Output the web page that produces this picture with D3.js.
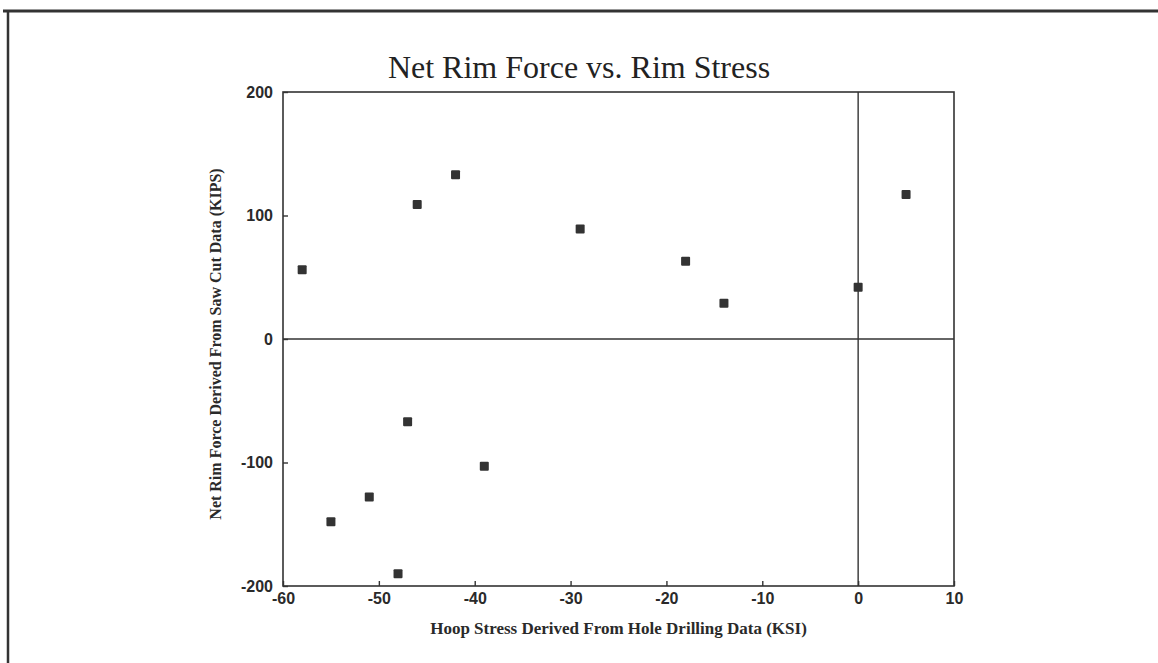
<!DOCTYPE html>
<html>
<head>
<meta charset="utf-8">
<script src="https://cdn.jsdelivr.net/npm/d3@7"></script>
<style>
  body { margin: 0; background: #fff; }
  .tick-label { font-family: "Liberation Sans", Arial, sans-serif; font-weight: bold; font-size: 16px; fill: #2a2a2a; }
  .axis-title { font-family: "Liberation Serif", "Times New Roman", serif; font-weight: bold; fill: #2a2a2a; }
</style>
</head>
<body>
<div id="chart"></div>
<script>
// hoop stress (KSI) vs net rim force (KIPS)
const hoopStress = [-58, -46, -42, -29, -18, -14, 0, 5, -47, -39, -51, -55, -48];
const rimForce = [56, 109, 133, 89, 63, 29, 42, 117, -67, -103, -128, -148, -190];
const xTicks = [-60, -50, -40, -30, -20, -10, 0, 10];
const yTicks = [200, 100, 0, -100, -200];

const W = 1158, H = 663;
const plot = { left: 283, right: 954, top: 92, bottom: 586 };

const svg = d3.select("#chart").append("svg")
  .attr("width", W)
  .attr("height", H);

// page frame (top + left edges of the scanned sheet)
svg.append("line")
  .attr("x1", 3).attr("x2", W).attr("y1", 11).attr("y2", 11)
  .attr("stroke", "#333").attr("stroke-width", 3);
svg.append("line")
  .attr("x1", 8).attr("x2", 8).attr("y1", 10).attr("y2", H)
  .attr("stroke", "#333").attr("stroke-width", 2.5);

const x = d3.scaleLinear().domain([-60, 10]).range([plot.left, plot.right]);
const y = d3.scaleLinear().domain([-200, 200]).range([plot.bottom, plot.top]);

// title
svg.append("text")
  .attr("x", 579).attr("y", 78)
  .attr("text-anchor", "middle")
  .style("font-family", "'Liberation Serif', 'Times New Roman', serif")
  .style("font-size", "32px")
  .style("fill", "#222")
  .text("Net Rim Force vs. Rim Stress");

// plot box
svg.append("rect")
  .attr("x", plot.left).attr("y", plot.top)
  .attr("width", plot.right - plot.left).attr("height", plot.bottom - plot.top)
  .attr("fill", "none").attr("stroke", "#333").attr("stroke-width", 1.6);

// zero lines
svg.append("line")
  .attr("x1", x(-60)).attr("x2", x(10)).attr("y1", y(0)).attr("y2", y(0))
  .attr("stroke", "#333").attr("stroke-width", 1.4);
svg.append("line")
  .attr("x1", x(0)).attr("x2", x(0)).attr("y1", y(200)).attr("y2", y(-200))
  .attr("stroke", "#333").attr("stroke-width", 1.4);

// axes with inward ticks, plain hyphen for negatives
const fmt = d => String(d);
const xAxis = d3.axisBottom(x).tickValues(xTicks).tickFormat(fmt)
  .tickSizeInner(-5).tickSizeOuter(0).tickPadding(7);
const gx = svg.append("g")
  .attr("transform", "translate(0," + plot.bottom + ")")
  .call(xAxis);
gx.select(".domain").remove();
gx.selectAll(".tick line").attr("stroke", "#333").attr("stroke-width", 1.4);
gx.selectAll(".tick text").attr("class", "tick-label").attr("font-family", null).attr("font-size", null);

const yAxis = d3.axisLeft(y).tickValues(yTicks).tickFormat(fmt)
  .tickSizeInner(-5).tickSizeOuter(0).tickPadding(10);
const gy = svg.append("g")
  .attr("transform", "translate(" + plot.left + ",0)")
  .call(yAxis);
gy.select(".domain").remove();
gy.selectAll(".tick line").attr("stroke", "#333").attr("stroke-width", 1.4);
gy.selectAll(".tick text").attr("class", "tick-label").attr("font-family", null).attr("font-size", null);

// axis titles
svg.append("text")
  .attr("class", "axis-title")
  .attr("x", (plot.left + plot.right) / 2).attr("y", 634)
  .attr("text-anchor", "middle")
  .style("font-size", "17px")
  .text("Hoop Stress Derived From Hole Drilling Data (KSI)");

svg.append("text")
  .attr("class", "axis-title")
  .attr("transform", "translate(221,344) rotate(-90)")
  .attr("text-anchor", "middle")
  .style("font-size", "16px")
  .text("Net Rim Force Derived From Saw Cut Data (KIPS)");

// points
const pts = hoopStress.map((h, i) => ({ h: h, f: rimForce[i] }));
const s = 9;
svg.append("g").selectAll("rect")
  .data(pts)
  .join("rect")
  .attr("x", d => x(d.h) - s / 2)
  .attr("y", d => y(d.f) - s / 2)
  .attr("width", s).attr("height", s)
  .attr("rx", 1)
  .attr("fill", "#333");
</script>
</body>
</html>
